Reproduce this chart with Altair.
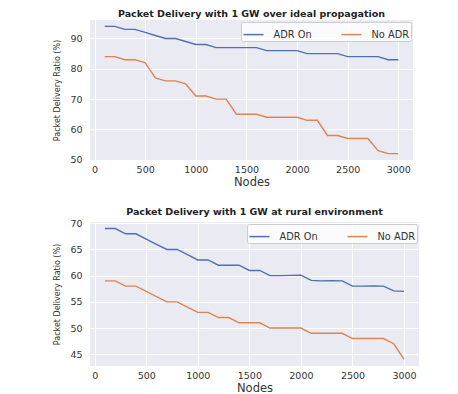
import altair as alt
import pandas as pd

nodes = list(range(100, 3001, 100))
series_names = ["ADR On", "No ADR"]
colors = ["#4C72B0", "#DD8452"]

ideal_adr = [94, 94, 93, 93, 92, 91, 90, 90, 89, 88, 88, 87, 87, 87, 87,
             87, 86, 86, 86, 86, 85, 85, 85, 85, 84, 84, 84, 84, 83, 83]
ideal_noadr = [84, 84, 83, 83, 82, 77, 76, 76, 75, 71, 71, 70, 70, 65, 65,
               65, 64, 64, 64, 64, 63, 63, 58, 58, 57, 57, 57, 53, 52, 52]

rural_adr = [69, 69, 68, 68, 67, 66, 65, 65, 64, 63, 63, 62, 62, 62, 61,
             61, 60, 60, 60.05, 60.1, 59.1, 59, 59.05, 59, 58, 58, 58.05, 58, 57.1, 57]
rural_noadr = [59, 59, 58, 58, 57, 56, 55, 55, 54, 53, 53, 52, 52, 51, 51,
               51, 50, 50, 50, 50, 49, 49, 49, 49, 48, 48, 48, 48, 47, 44]

x_ticks = [0, 500, 1000, 1500, 2000, 2500, 3000]


def panel(title, adr, noadr, ydomain, yticks, width, height):
    df = pd.DataFrame({
        "Nodes": nodes + nodes,
        "PDR": adr + noadr,
        "Series": [series_names[0]] * len(nodes) + [series_names[1]] * len(nodes),
    })
    return alt.Chart(df).mark_line(strokeWidth=1.4).encode(
        x=alt.X("Nodes:Q",
                scale=alt.Scale(domain=[-45, 3145], nice=False, zero=False),
                axis=alt.Axis(values=x_ticks, format="d", title="Nodes")),
        y=alt.Y("PDR:Q",
                scale=alt.Scale(domain=ydomain, nice=False, zero=False),
                axis=alt.Axis(values=yticks, format="d", title="Packet Delivery Ratio (%)")),
        color=alt.Color("Series:N",
                        scale=alt.Scale(domain=series_names, range=colors),
                        legend=alt.Legend(title=None, orient="top-right", offset=2,
                                          direction="horizontal",
                                          symbolType="stroke", symbolSize=400,
                                          symbolStrokeWidth=1.5,
                                          labelFontSize=9.8, labelOffset=9,
                                          labelFont="DejaVu Sans", labelColor="#333333",
                                          columnPadding=26, padding=1.5,
                                          fillColor="rgba(255,255,255,0.8)",
                                          strokeColor="#cccccc", cornerRadius=2)),
    ).properties(title=title, width=width, height=height)


top = panel("Packet Delivery with 1 GW over ideal propagation",
            ideal_adr, ideal_noadr, [49.9, 96.1], [50, 60, 70, 80, 90], 323, 140)
bottom = panel("Packet Delivery with 1 GW at rural environment",
               rural_adr, rural_noadr, [42.75, 70.25], [45, 50, 55, 60, 65, 70], 329, 144)

chart = alt.vconcat(top, bottom, spacing=18).resolve_scale(
    color="independent").resolve_legend(color="independent").properties(
    padding={"left": 45, "top": 0, "right": 5, "bottom": 0}
).configure_view(fill="#EAEAF2", stroke=None).configure_axis(
    grid=True, gridColor="white", gridWidth=1, domain=False, ticks=False,
    labelFont="DejaVu Sans", labelFontSize=9.5, labelColor="#333333",
    titleFont="DejaVu Sans", titleFontWeight="normal", titleColor="#333333",
).configure_axisX(labelPadding=4, titleFontSize=11.5, titlePadding=3).configure_axisY(
    labelPadding=8, titleFontSize=8, titlePadding=8
).configure_title(font="DejaVu Sans", fontSize=9.5, fontWeight="bold", offset=2,
                  color="#222222", anchor="middle")

chart.save("out.html", embed_options={"renderer": "svg", "actions": False})
